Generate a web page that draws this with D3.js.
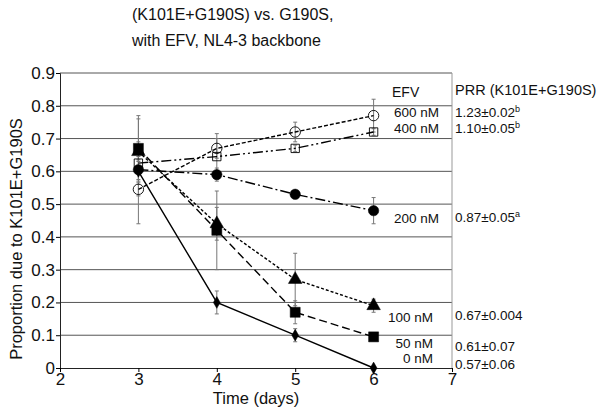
<!DOCTYPE html>
<html><head><meta charset="utf-8">
<script src="https://cdn.jsdelivr.net/npm/d3@7"></script>
<style>body{margin:0;background:#fff}text{font-family:"Liberation Sans",Arial,sans-serif;fill:#111}</style>
</head><body><svg id="c" width="600" height="417"></svg>
<script>
const days = [3, 4, 5, 6];
const conc = ["0 nM", "50 nM", "100 nM", "200 nM", "400 nM", "600 nM"];
const val0   = [0.60, 0.20, 0.10, 0.00];
const val50  = [0.67, 0.42, 0.17, 0.095];
const val100 = [0.66, 0.44, 0.27, 0.19];
const val200 = [0.605, 0.59, 0.53, 0.48];
const val400 = [0.625, 0.645, 0.67, 0.72];
const val600 = [0.545, 0.67, 0.72, 0.77];
const err0   = [0.16, 0.035, 0.02, 0.0];
const err50  = [0.10, 0.12, 0.035, 0.01];
const err100 = [0.03, 0.05, 0.08, 0.02];
const err200 = [0.03, 0.02, 0.01, 0.04];
const err400 = [0.02, 0.07, 0.01, 0.01];
const err600 = [0.02, 0.03, 0.03, 0.05];
const prr = ["0.57±0.06", "0.61±0.07", "0.67±0.004", "0.87±0.05", "1.10±0.05", "1.23±0.02"];
const prrSup = ["", "", "", "a", "b", "b"];
const yTicks = [0, 0.1, 0.2, 0.3, 0.4, 0.5, 0.6, 0.7, 0.8, 0.9];
const xTicks = [2, 3, 4, 5, 6, 7];

const vals = [val0, val50, val100, val200, val400, val600];
const errs = [err0, err50, err100, err200, err400, err600];
const markers = ["diamond", "fsquare", "triangle", "fcircle", "osquare", "ocircle"];
const dashes = [null, "8,4", "3,2", "10,3,2,3", "10,3,2,3,2,3", "4,2"];
const labelX = [433, 433, 433, 439, 439, 439];
const labelY = [358, 343, 317, 218, 127.5, 112];
const prrY = [364, 346, 315, 217, 127.5, 112];

const svg = d3.select("#c");
const x = d3.scaleLinear().domain([2, 7]).range([60, 452]);
const y = d3.scaleLinear().domain([0, 0.9]).range([368, 73]);

// gridlines
svg.append("g").selectAll("line").data(yTicks.filter(d => d > 0)).join("line")
  .attr("x1", 60).attr("x2", 452).attr("y1", d => y(d)).attr("y2", d => y(d))
  .attr("stroke", "#555").attr("stroke-width", 1);
svg.append("line").attr("x1", 452).attr("x2", 452).attr("y1", y(0.9)).attr("y2", y(0))
  .attr("stroke", "#999");

// axes
const ya = svg.append("g").attr("transform", "translate(60,0)")
  .call(d3.axisLeft(y).tickValues(yTicks).tickSize(4).tickFormat(d3.format("")));
ya.select(".domain").attr("stroke", "#222");
ya.selectAll("text").attr("font-size", 17).attr("x", -5).attr("fill", "#111");
const xa = svg.append("g").attr("transform", "translate(0,368)")
  .call(d3.axisBottom(x).tickValues(xTicks).tickSize(4).tickFormat(d3.format("d")));
xa.select(".domain").attr("stroke", "#222");
xa.selectAll("text").attr("font-size", 17).attr("y", 5).attr("fill", "#111");

// titles
svg.append("text").attr("x", 132).attr("y", 20).attr("font-size", 16).text("(K101E+G190S) vs. G190S,");
svg.append("text").attr("x", 132).attr("y", 46).attr("font-size", 16).text("with EFV, NL4-3 backbone");
svg.append("text").attr("x", 256).attr("y", 404).attr("text-anchor", "middle").attr("font-size", 16.5).text("Time (days)");
svg.append("text").attr("transform", "translate(22,239) rotate(-90)").attr("text-anchor", "middle")
  .attr("font-size", 16.5).text("Proportion due to K101E+G190S");

// error bars
vals.forEach((v, i) => {
  const g = svg.append("g");
  days.forEach((d, j) => {
    const e = errs[i][j];
    if (e <= 0) return;
    const cx = x(d), y1 = y(v[j] + e), y2 = y(v[j] - e);
    g.append("line").attr("x1", cx).attr("x2", cx).attr("y1", y1).attr("y2", y2).attr("stroke", "#777").attr("stroke-width", 1);
    [y1, y2].forEach(yy => g.append("line").attr("x1", cx - 2).attr("x2", cx + 2).attr("y1", yy).attr("y2", yy).attr("stroke", "#777"));
  });
});

// lines
const line = d3.line().x((d, j) => x(days[j])).y(d => y(d));
vals.forEach((v, i) => {
  svg.append("path").datum(v).attr("d", line).attr("fill", "none").attr("stroke", "#000")
    .attr("stroke-width", 1.4).attr("stroke-dasharray", dashes[i]);
});

// markers
const sym = {
  diamond: d3.symbol().type(d3.symbolDiamond).size(40),
  fsquare: d3.symbol().type(d3.symbolSquare).size(100),
  triangle: d3.symbol().type(d3.symbolTriangle).size(80),
  fcircle: d3.symbol().type(d3.symbolCircle).size(85),
  osquare: d3.symbol().type(d3.symbolSquare).size(70),
  ocircle: d3.symbol().type(d3.symbolCircle).size(85)
};
vals.forEach((v, i) => {
  const m = markers[i];
  const open = m.startsWith("o");
  svg.append("g").selectAll("path").data(v).join("path")
    .attr("transform", (d, j) => `translate(${x(days[j])},${y(d)})`)
    .attr("d", sym[m]())
    .attr("fill", open ? "#fff" : "#000").attr("stroke", "#000").attr("stroke-width", open ? 0.9 : 0.5)
    .attr("fill-opacity", open ? 0 : 1);
});

// labels
svg.append("text").attr("x", 392).attr("y", 97).attr("font-size", 14).text("EFV");
svg.append("text").attr("x", 455).attr("y", 95).attr("font-size", 14.5).text("PRR (K101E+G190S)");
conc.forEach((c, i) => {
  svg.append("text").attr("x", labelX[i]).attr("y", labelY[i] + 5).attr("font-size", 13.5)
    .attr("text-anchor", "end").text(c);
  const t = svg.append("text").attr("x", 455).attr("y", prrY[i] + 5).attr("font-size", 13.5).text(prr[i]);
  if (prrSup[i]) t.append("tspan").attr("font-size", 9).attr("dy", -5).text(prrSup[i]);
});
</script></body></html>
